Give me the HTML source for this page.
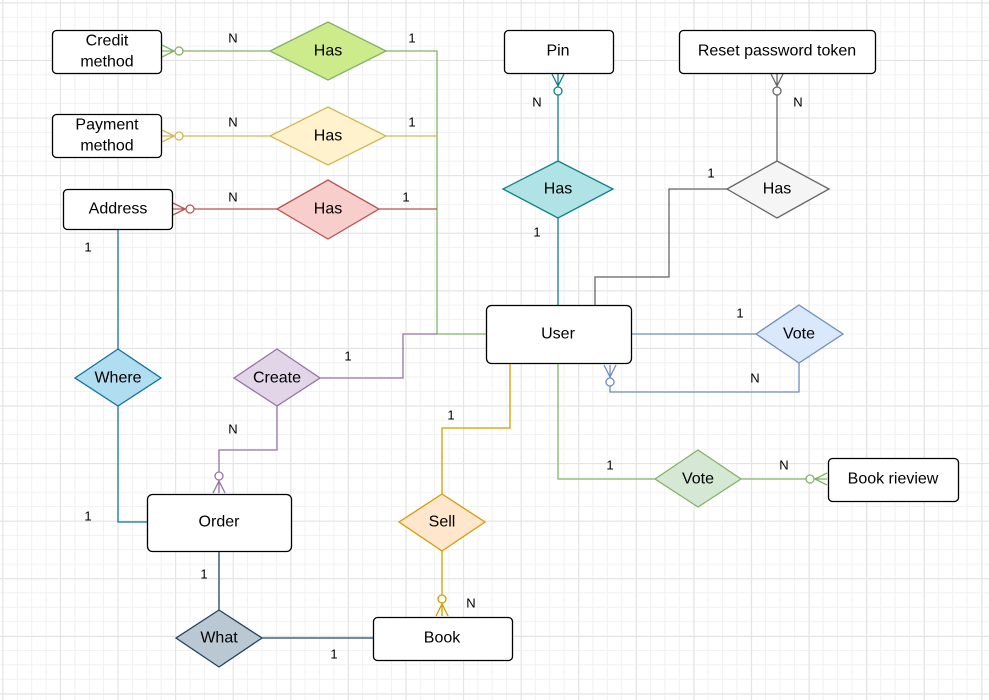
<!DOCTYPE html>
<html><head><meta charset="utf-8"><style>
html,body{margin:0;padding:0}
body{width:989px;height:700px;overflow:hidden;background-color:#fff;
background-image:
linear-gradient(to right,#e2e2e2 1px,transparent 1px),
linear-gradient(to bottom,#e2e2e2 1px,transparent 1px),
linear-gradient(to right,#f1f1f1 1px,transparent 1px),
linear-gradient(to bottom,#f1f1f1 1px,transparent 1px);
background-size:57.6px 57.6px,57.6px 57.6px,14.4px 14.4px,14.4px 14.4px;
background-position:2.4px 2.4px,2.4px 2.4px,2.4px 2.4px,2.4px 2.4px;}
svg{position:absolute;left:0;top:0}
text{font-family:"Liberation Sans",Arial,sans-serif}
.n{font-size:16px;text-anchor:middle;dominant-baseline:central;fill:#000}
.c{font-size:13px;text-anchor:middle;dominant-baseline:central;fill:#000}
.box{fill:#fff;stroke:#000;stroke-width:1.3}
</style></head><body>
<svg width="989" height="700" viewBox="0 0 989 700">
<defs>
<g id="cf"><path d="M0,-6 L12,0 M0,0 L12,0 M0,6 L12,0 M12,0 L13,0" fill="none"/><circle cx="17" cy="0" r="4" fill="#fff"/></g>
</defs>
<g fill="none" stroke-width="1.3">
<!-- green has lines -->
<path d="M181,51 L270,51 M386,51 L437,51 L437,334 L486,334" stroke="#82b366"/>
<path d="M181,136 L270,136 M386,136 L437,136" stroke="#d6b656"/>
<path d="M192,209 L277,209 M379,209 L437,209" stroke="#b85450"/>
<!-- teal -->
<path d="M558,93 L558,161 M558,218 L558,305" stroke="#0e8088"/>
<!-- gray -->
<path d="M777,93 L777,161 M727,189 L669,189 L669,277 L595,277 L595,305" stroke="#666"/>
<!-- blue -->
<path d="M631,334 L756,334 M799,363 L799,392 L610,392 L610,384" stroke="#6c8ebf"/>
<!-- where -->
<path d="M118,229 L118,349 M118,406 L118,522 L147,522" stroke="#10739e"/>
<!-- create -->
<path d="M320,378 L403,378 L403,334 L437,334 M277,406 L277,450 L219,450 L219,474" stroke="#9673a6"/>
<!-- what -->
<path d="M219,551 L219,610 M262,638 L373,638" stroke="#23445d"/>
<!-- sell -->
<path d="M510,364 L510,428 L442,428 L442,494 M442,551 L442,597" stroke="#d79b00"/>
<!-- green vote -->
<path d="M558,364 L558,479 L655,479 M741,479 L807,479" stroke="#82b366"/>
</g>
<!-- crowfeet -->
<g stroke-width="1.3">
<use href="#cf" transform="translate(162,51)" stroke="#82b366"/>
<use href="#cf" transform="translate(162,136)" stroke="#d6b656"/>
<use href="#cf" transform="translate(173,209)" stroke="#b85450"/>
<use href="#cf" transform="translate(558,74) rotate(90)" stroke="#0e8088"/>
<use href="#cf" transform="translate(777,74) rotate(90)" stroke="#666"/>
<use href="#cf" transform="translate(610,365) rotate(90)" stroke="#6c8ebf"/>
<use href="#cf" transform="translate(219,493) rotate(-90)" stroke="#9673a6"/>
<use href="#cf" transform="translate(442,616) rotate(-90)" stroke="#d79b00"/>
<use href="#cf" transform="translate(827,479) rotate(180)" stroke="#82b366"/>
</g>
<!-- diamonds -->
<g stroke-width="1.3">
<polygon points="270,51 328,22 386,51 328,80" fill="#cdeb8b" stroke="#82b366"/>
<polygon points="270,136 328,107 386,136 328,165" fill="#fff2cc" stroke="#d6b656"/>
<polygon points="277,209 328,180 379,209 328,239" fill="#f8cecc" stroke="#b85450"/>
<polygon points="503,189 558,161 613,189 558,218" fill="#b0e3e6" stroke="#0e8088"/>
<polygon points="727,189 777,161 829,189 777,218" fill="#f5f5f5" stroke="#666"/>
<polygon points="756,334 799,305 843,334 799,363" fill="#dae8fc" stroke="#6c8ebf"/>
<polygon points="75,378 118,349 161,378 118,406" fill="#b1ddf0" stroke="#10739e"/>
<polygon points="234,378 277,349 320,378 277,406" fill="#e1d5e7" stroke="#9673a6"/>
<polygon points="176,638 219,610 262,638 219,667" fill="#bac8d3" stroke="#23445d"/>
<polygon points="399,522 442,494 485,522 442,551" fill="#ffe6cc" stroke="#d79b00"/>
<polygon points="655,479 698,450 741,479 698,507" fill="#d5e8d4" stroke="#82b366"/>
</g>
<!-- boxes -->
<rect class="box" x="52.5" y="30.5" width="109" height="43" rx="4"/>
<rect class="box" x="52.5" y="114.5" width="109" height="43" rx="4"/>
<rect class="box" x="63.5" y="189.5" width="109" height="40" rx="4"/>
<rect class="box" x="504.5" y="30.5" width="109" height="43" rx="4"/>
<rect class="box" x="679.5" y="30.5" width="196" height="43" rx="4"/>
<rect class="box" x="486.5" y="305.5" width="145" height="58" rx="5"/>
<rect class="box" x="147.5" y="494.5" width="144" height="57" rx="5"/>
<rect class="box" x="373.5" y="617.5" width="139" height="43" rx="4"/>
<rect class="box" x="828.5" y="458.5" width="130" height="43" rx="4"/>
<!-- labels -->
<text class="n" x="107" y="41">Credit</text><text class="n" x="107" y="62">method</text>
<text class="n" x="107" y="125">Payment</text><text class="n" x="107" y="146">method</text>
<text class="n" x="118" y="209">Address</text>
<text class="n" x="558" y="51">Pin</text>
<text class="n" x="777" y="51">Reset password token</text>
<text class="n" x="558" y="334">User</text>
<text class="n" x="219" y="522">Order</text>
<text class="n" x="442" y="638">Book</text>
<text class="n" x="893" y="479">Book rieview</text>
<text class="n" x="328" y="51">Has</text>
<text class="n" x="328" y="136">Has</text>
<text class="n" x="328" y="209">Has</text>
<text class="n" x="558" y="189">Has</text>
<text class="n" x="777" y="189" fill="#333">Has</text>
<text class="n" x="799" y="334">Vote</text>
<text class="n" x="118" y="378">Where</text>
<text class="n" x="277" y="378">Create</text>
<text class="n" x="219" y="638">What</text>
<text class="n" x="442" y="522">Sell</text>
<text class="n" x="698" y="479">Vote</text>
<!-- cardinalities -->
<text class="c" x="233" y="38">N</text><text class="c" x="412" y="38">1</text>
<text class="c" x="233" y="122">N</text><text class="c" x="412" y="122">1</text>
<text class="c" x="233" y="197">N</text><text class="c" x="406" y="197">1</text>
<text class="c" x="537" y="102">N</text><text class="c" x="537" y="232">1</text>
<text class="c" x="798" y="102">N</text><text class="c" x="711" y="173">1</text>
<text class="c" x="740" y="313">1</text><text class="c" x="755" y="378">N</text>
<text class="c" x="348" y="356">1</text><text class="c" x="233" y="429">N</text>
<text class="c" x="88" y="247">1</text><text class="c" x="88" y="516">1</text>
<text class="c" x="204" y="574">1</text><text class="c" x="334" y="654">1</text>
<text class="c" x="451" y="415">1</text><text class="c" x="471" y="603">N</text>
<text class="c" x="610" y="465">1</text><text class="c" x="784" y="465">N</text>
</svg>
</body></html>
